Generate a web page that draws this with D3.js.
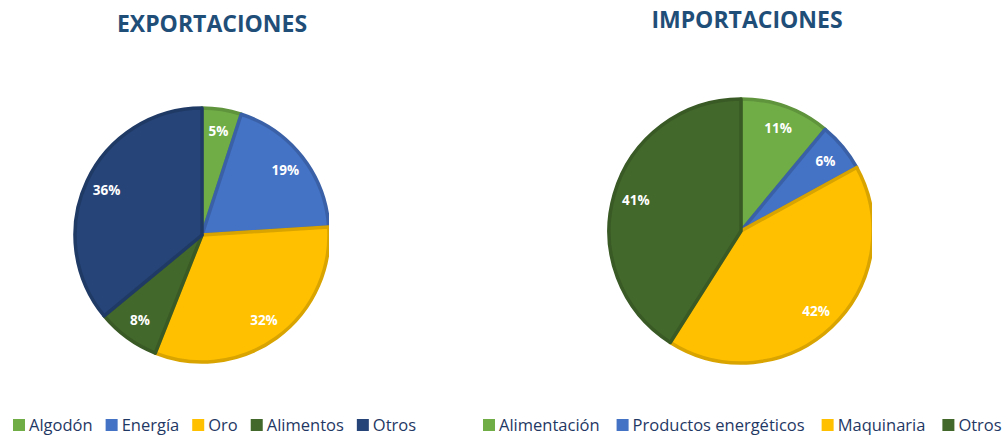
<!DOCTYPE html>
<html>
<head>
<meta charset="utf-8">
<title>Exportaciones e importaciones</title>
<script src="https://d3js.org/d3.v7.min.js"></script>
<style>
  body { margin: 0; background: #fff; }
  svg { display: block; font-family: "Open Sans", "Liberation Sans", sans-serif; }
  .title { font-weight: bold; fill: #1f4e79; }
  .lbl { font-weight: bold; fill: #fff; font-size: 13.5px; }
  .leg { fill: #1f3864; font-size: 16.5px; }
</style>
</head>
<body>
<div id="chart"></div>
<script>
// data
var expCats = ["Algodón", "Energía", "Oro", "Alimentos", "Otros"];
var expVals = [5, 19, 32, 8, 36];
var expColors = ["#70ad47", "#4472c4", "#ffc000", "#43682b", "#264478"];

var impCats = ["Alimentación", "Productos energéticos", "Maquinaria", "Otros"];
var impVals = [11, 6, 42, 41];
var impColors = ["#70ad47", "#4472c4", "#ffc000", "#43682b"];

var w = 1008, h = 436;

var svg = d3.select("#chart").append("svg")
  .attr("width", w)
  .attr("height", h);

var defs = svg.append("defs");

// one pie with its title and legend
function drawPie(opt) {
  var pie = d3.pie().sort(null).value(function(d) { return d.v; });
  var arc = d3.arc().innerRadius(0).outerRadius(opt.r);
  var data = opt.cats.map(function(c, i) { return { c: c, v: opt.vals[i], col: opt.colors[i] }; });
  var arcs = pie(data);

  // the right edge of each plot area cuts the pie a little
  defs.append("clipPath").attr("id", opt.id)
    .append("rect")
    .attr("x", 0).attr("y", 0)
    .attr("width", opt.clipX).attr("height", h);

  var g = svg.append("g").attr("clip-path", "url(#" + opt.id + ")")
    .append("g")
    .attr("transform", "translate(" + opt.cx + "," + opt.cy + ")");

  g.selectAll("path.slice")
    .data(arcs)
    .enter().append("path")
    .attr("class", "slice")
    .attr("d", arc)
    .attr("fill", function(d) { return d.data.col; })
    .attr("stroke", function(d) { return d3.color(d.data.col).darker(0.45); })
    .attr("stroke-width", 3.5)
    .attr("stroke-linejoin", "round");

  var lblArc = d3.arc().innerRadius(opt.r * 0.83).outerRadius(opt.r * 0.83);
  g.selectAll("text.lbl")
    .data(arcs)
    .enter().append("text")
    .attr("class", "lbl")
    .attr("text-anchor", "middle")
    .attr("dy", "0.35em")
    .attr("transform", function(d) { return "translate(" + lblArc.centroid(d) + ")"; })
    .text(function(d) { return d.data.v + "%"; });

  svg.append("text")
    .attr("class", "title")
    .attr("x", opt.titleX)
    .attr("y", opt.titleY)
    .attr("text-anchor", "middle")
    .style("font-size", "23px")
    .text(opt.title);

  // legend
  var x = opt.legX;
  data.forEach(function(d, i) {
    svg.append("rect")
      .attr("x", x).attr("y", 419)
      .attr("width", 12).attr("height", 12)
      .attr("fill", d.col);
    var t = svg.append("text")
      .attr("class", "leg")
      .attr("x", x + 16).attr("y", 431)
      .text(d.c);
    x += 16 + t.node().getComputedTextLength() + opt.legGap;
  });
}

drawPie({
  id: "clipExp", title: "EXPORTACIONES", titleX: 212, titleY: 32,
  cats: expCats, vals: expVals, colors: expColors,
  cx: 202, cy: 235, r: 127, clipX: 329,
  legX: 13, legGap: 13
});

drawPie({
  id: "clipImp", title: "IMPORTACIONES", titleX: 747, titleY: 28,
  cats: impCats, vals: impVals, colors: impColors,
  cx: 741, cy: 231, r: 132, clipX: 872,
  legX: 483, legGap: 17
});
</script>
</body>
</html>
